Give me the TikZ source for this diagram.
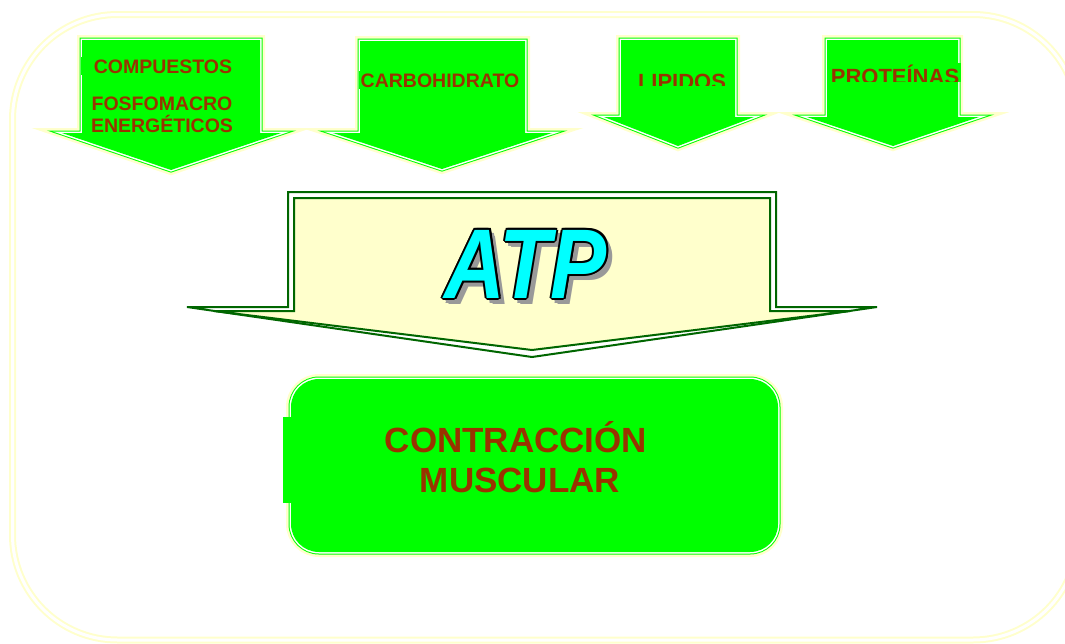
\documentclass[tikz,border=0pt]{standalone}
\usepackage{fontspec}
\setmainfont{Liberation Sans}
\usepackage{graphicx}
\usepackage{tikz}
\usetikzlibrary{positioning}

\definecolor{srcgreen}{HTML}{00FF00}
\definecolor{labelred}{HTML}{993300}
\definecolor{paleyellow}{HTML}{FFFFCC}
\definecolor{atpgreen}{HTML}{006600}
\definecolor{atpcyan}{HTML}{00FFFF}
\definecolor{atpshade}{HTML}{999999}

\newcommand{\atpword}{\scalebox{0.85}[1]{ATP}}

\tikzset{
    frame/.style={draw=paleyellow, line width=2pt, double=white, double distance=3pt, rounded corners=105pt},
    srcarrow/.style={preaction={draw=paleyellow, line width=10pt}, draw=srcgreen, line width=1pt, double=white, double distance=3pt, postaction={fill=srcgreen}},
    srclabel/.style={fill=srcgreen, text=labelred, anchor=base, inner xsep=2pt, inner ysep=2pt, font=\fontsize{19.5}{22}\selectfont\bfseries},
    atpline/.style={draw=atpgreen, line width=2pt},
    atptext/.style={anchor=base, inner sep=0pt, font=\fontsize{99}{99}\selectfont\bfseries\itshape},
    bigtext/.style={text=labelred, anchor=base, inner sep=0pt, font=\fontsize{35}{40}\selectfont\bfseries}
}

\begin{document}
\begin{tikzpicture}[x=1pt, y=-1pt]
    \useasboundingbox (0,0) rectangle (1065,643);

    % outer frame
    \draw[frame] (12.5,14.5) rectangle (1078,640);

    % sources of energy
    \draw[srcarrow] (82,40) -- (260,40) -- (260,133) -- (281,133) -- (171,170) -- (62,133) -- (82,133) -- cycle;
    \draw[srcarrow] (360,41) -- (525,41) -- (525,133) -- (552,133) -- (442,169) -- (333,133) -- (360,133) -- cycle;
    \draw[srcarrow] (621,40) -- (735,40) -- (735,117) -- (754,117) -- (678,146) -- (604,117) -- (621,117) -- cycle;
    \draw[srcarrow] (827,40) -- (958,40) -- (958,117) -- (979,117) -- (893,146) -- (807,117) -- (827,117) -- cycle;

    \node[srclabel, inner xsep=13pt] (compuestos) at (163,73) {COMPUESTOS};
    \node[srclabel] (fosfomacro) at (162,110) {FOSFOMACRO};
    \node[srclabel] (energeticos) at (162,132) {ENERGÉTICOS};
    \node[srclabel] (carbohidrato) at (440,87) {CARBOHIDRATO};
    \begin{scope}
        \clip (600,50) rectangle (760,85);
        \node[srclabel, font=\fontsize{22}{24}\selectfont\bfseries] (lipidos) at (682,89) {LIPIDOS};
    \end{scope}
    \begin{scope}
        \clip (800,50) rectangle (980,81);
        \node[srclabel, font=\fontsize{22}{24}\selectfont\bfseries] (proteinas) at (895,84) {PROTEÍNAS};
    \end{scope}

    % ATP arrow
    \draw[atpline, fill=white] (288,192) -- (776,192) -- (776,307) -- (877,307) -- (532,357) -- (187,307) -- (288,307) -- cycle;
    \draw[atpline, fill=paleyellow] (294,198) -- (770,198) -- (770,311) -- (850,311) -- (532,350) -- (214,311) -- (294,311) -- cycle;

    \foreach \dx/\dy [count=\i] in {3/3, 4/4, 5/5, 5/3, 3/5, 6/6}
        \node[atptext, text=atpshade] (atpshade\i) at (526+\dx,298+\dy) {\atpword};
    \foreach \dx/\dy [count=\i] in {-2/0, 2/0, 0/-2, 0/2, -1.4/-1.4, 1.4/1.4, -1.4/1.4, 1.4/-1.4}
        \node[atptext, text=black] (atpedge\i) at (526+\dx,298+\dy) {\atpword};
    \node[atptext, text=atpcyan] (atp) at (526,298) {\atpword};

    % muscle contraction
    \node[srcarrow, rounded corners=28pt, minimum width=487pt, minimum height=173pt, inner sep=0pt] (muscle) at (534.5,465.5) {};
    \node[fill=srcgreen, minimum width=470pt, minimum height=86pt, inner sep=0pt] (musclebg) at (518,460) {};
    \node[bigtext] (contraccion) at (516,452) {CONTRACCIÓN};
    \node[bigtext] (muscular) at (520,492) {MUSCULAR};
\end{tikzpicture}
\end{document}
